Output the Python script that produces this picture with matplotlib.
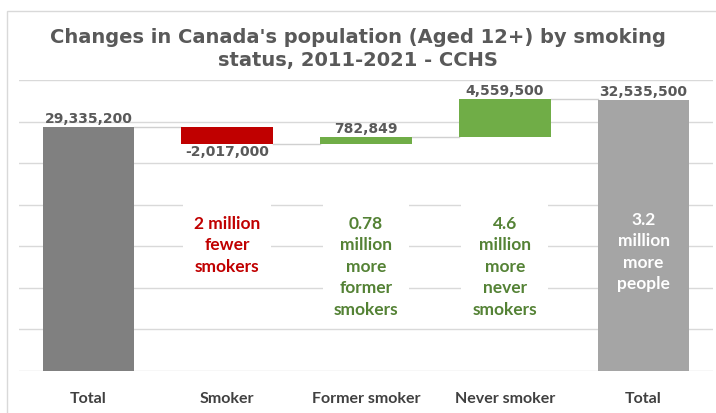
import matplotlib.pyplot as plt
from matplotlib.patches import Rectangle
import numpy as np

# data
categories = ["Total", "Smoker", "Former smoker", "Never smoker", "Total"]
start_total = 29335200
changes = [-2017000, 782849, 4559500]
end_total = 32535500
value_labels = ["29,335,200", "-2,017,000", "782,849", "4,559,500", "32,535,500"]
notes = ["", "2 million\nfewer\nsmokers", "0.78\nmillion\nmore\nformer\nsmokers",
         "4.6\nmillion\nmore\nnever\nsmokers", "3.2\nmillion\nmore\npeople"]

bar_colors = ["#808080", "#C00000", "#70AD47", "#70AD47", "#A5A5A5"]
note_colors = ["none", "#C00000", "#548235", "#548235", "white"]
label_font = "Lato"

# waterfall bottoms / heights
bottoms = [0]
heights = [start_total]
level = start_total
for c in changes:
    if c < 0:
        bottoms.append(level + c)
        heights.append(-c)
    else:
        bottoms.append(level)
        heights.append(c)
    level += c
bottoms.append(0)
heights.append(end_total)

fig = plt.figure(figsize=(7.16, 4.14), dpi=100)
ax = fig.add_axes([19/716, 1 - 372/414, 694/716, 291/414])

x = np.arange(len(categories))
w = 0.66
ax.set_xlim(-0.5, len(categories) - 0.5)
ax.set_ylim(0, 35000000)
ax.set_yticks(np.arange(0, 35000001, 5000000))
ax.grid(axis="y", color="#D9D9D9", linewidth=1)
ax.set_axisbelow(True)
for s in ax.spines.values():
    s.set_visible(False)
ax.tick_params(left=False, bottom=False, labelleft=False)

ax.bar(x, heights, bottom=bottoms, width=w, color=bar_colors, zorder=2)

# connector lines
tops = [b + h for b, h in zip(bottoms, heights)]
levels = [start_total]
lv = start_total
for c in changes:
    lv += c
    levels.append(lv)
for i in range(len(levels)):
    ax.plot([x[i] + w/2, x[i+1] - w/2], [levels[i], levels[i]],
            color="#D0D0D0", linewidth=1, zorder=1)

# value labels
for i, lab in enumerate(value_labels):
    if lab.startswith("-"):
        ax.text(x[i], bottoms[i], lab, ha="center", va="top", fontsize=10,
                fontweight="bold", color="#595959", zorder=3)
    else:
        ax.text(x[i], tops[i] + 250000, lab, ha="center", va="bottom", fontsize=10,
                fontweight="bold", color="#595959", zorder=3)

# annotation notes
for i, note in enumerate(notes):
    if not note:
        continue
    yy = 0.55 if i == 4 else 0.536
    ax.text(x[i], yy, note, transform=ax.get_xaxis_transform(), ha="center", va="top",
            fontsize=12.5, fontweight="bold", color=note_colors[i], family=label_font,
            linespacing=1.42, zorder=4,
            bbox=dict(facecolor="white" if i < 4 else "none", edgecolor="none", pad=8))

ax.set_xticks(x)
ax.set_xticklabels(categories, fontsize=11.5, fontweight="bold", color="#404040",
                   family=label_font)
ax.tick_params(axis="x", pad=11)

fig.text(0.5, 1 - 49/414, "Changes in Canada's population (Aged 12+) by smoking\nstatus, 2011-2021 - CCHS",
         ha="center", va="center", fontsize=14, fontweight="bold", color="#595959",
         linespacing=1.22)

fig.patches.append(Rectangle((7/716, -0.1), 1.2, 1 - 12/414 + 0.1, transform=fig.transFigure,
                             fill=False, edgecolor="#D9D9D9", linewidth=1))

fig.savefig("out.png", dpi=100)
